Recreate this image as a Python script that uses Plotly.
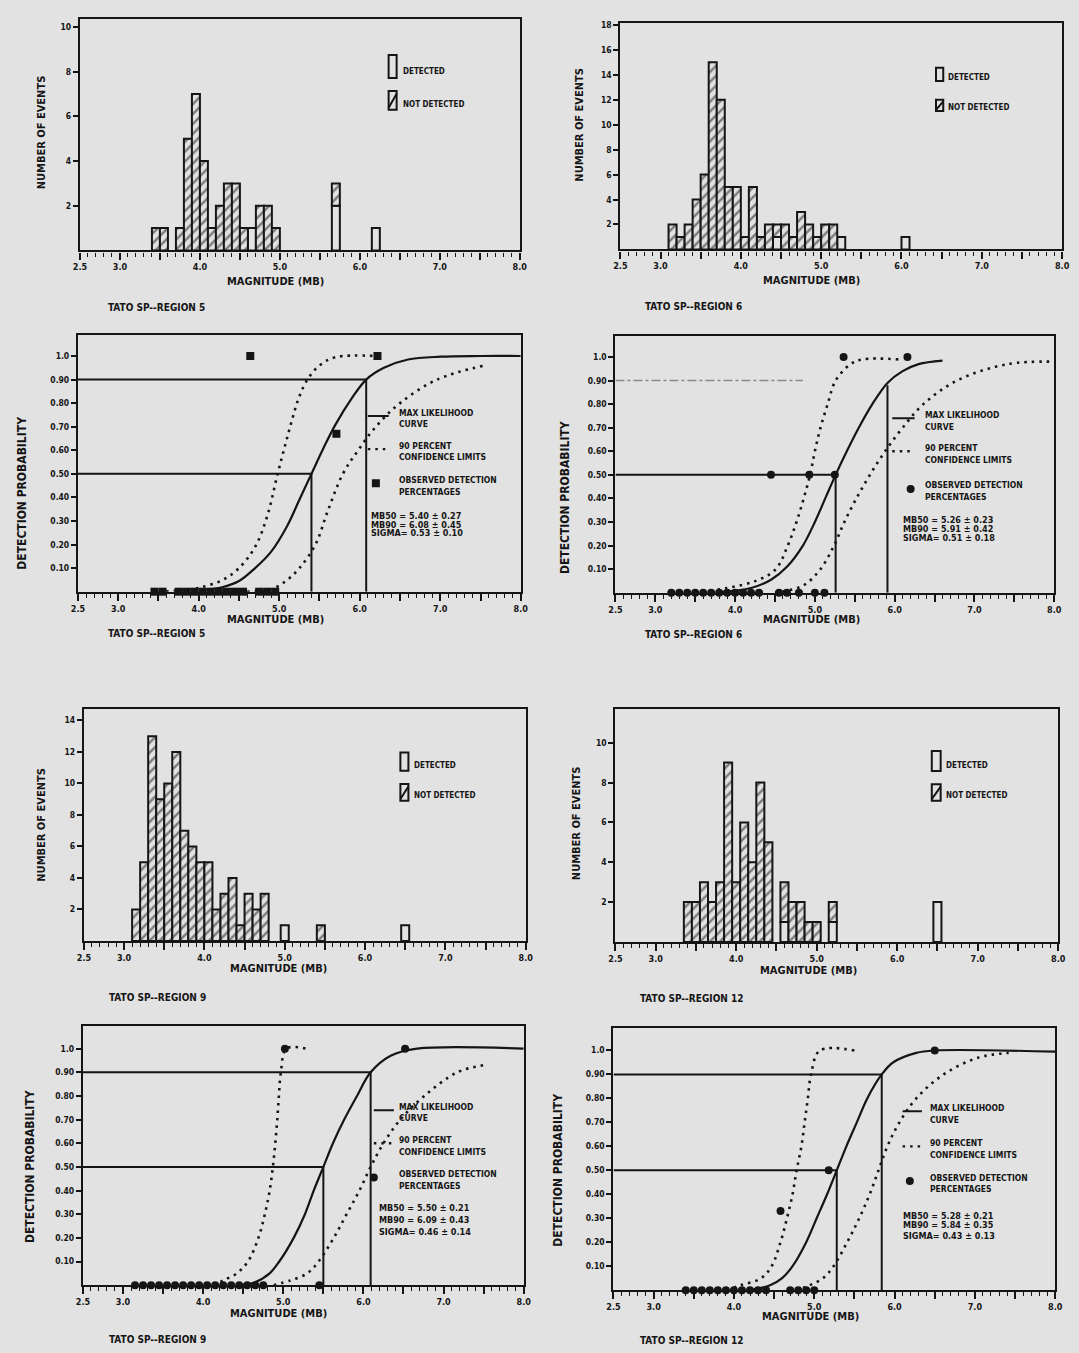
import plotly.graph_objects as go

W, H = 1079, 1353
BG = "#e2e2e2"
INK = "#151515"
FONT = "DejaVu Sans Condensed, DejaVu Sans, sans-serif"

# ---------------- histogram data (bin centre in mb, counts) ----------------
R5_BINS = [3.45, 3.55, 3.75, 3.85, 3.95, 4.05, 4.15, 4.25, 4.35, 4.45, 4.55, 4.65, 4.75, 4.85, 4.95, 5.70, 6.20]
R5_NOT_DET = [1, 1, 1, 5, 7, 4, 1, 2, 3, 3, 1, 0, 2, 2, 1, 1, 0]
R5_DET = [0, 0, 0, 0, 0, 0, 0, 0, 0, 0, 0, 1, 0, 0, 0, 2, 1]

R6_BINS = [3.15, 3.25, 3.35, 3.45, 3.55, 3.65, 3.75, 3.85, 3.95, 4.05, 4.15, 4.25, 4.35, 4.45,
           4.55, 4.65, 4.75, 4.85, 4.95, 5.05, 5.15, 5.25, 6.05]
R6_NOT_DET = [2, 1, 2, 4, 6, 15, 12, 5, 5, 1, 5, 1, 2, 1, 2, 1, 3, 2, 1, 2, 2, 0, 0]
R6_DET = [0, 0, 0, 0, 0, 0, 0, 0, 0, 0, 0, 0, 0, 1, 0, 0, 0, 0, 0, 0, 0, 1, 1]

R9_BINS = [3.15, 3.25, 3.35, 3.45, 3.55, 3.65, 3.75, 3.85, 3.95, 4.05, 4.15, 4.25, 4.35, 4.45,
           4.55, 4.65, 4.75, 5.00, 5.45, 6.50]
R9_NOT_DET = [2, 5, 13, 9, 10, 12, 7, 6, 5, 5, 2, 3, 4, 1, 3, 2, 3, 0, 1, 0]
R9_DET = [0, 0, 0, 0, 0, 0, 0, 0, 0, 0, 0, 0, 0, 0, 0, 0, 0, 1, 0, 1]

R12_BINS = [3.4, 3.5, 3.6, 3.7, 3.8, 3.9, 4.0, 4.1, 4.2, 4.3, 4.4, 4.6, 4.7, 4.8, 4.9, 5.0, 5.2, 6.5]
R12_NOT_DET = [2, 2, 3, 2, 3, 9, 3, 6, 4, 8, 5, 2, 2, 2, 1, 1, 1, 0]
R12_DET = [0, 0, 0, 0, 0, 0, 0, 0, 0, 0, 0, 1, 0, 0, 0, 0, 1, 2]

# ---------------- detection probability data ----------------
R5_ML_X = [4.0, 4.3, 4.5, 4.7, 4.9, 5.1, 5.25, 5.40, 5.55, 5.70, 5.90, 6.08, 6.30, 6.60, 7.00, 7.50, 8.00]
R5_ML_Y = [0.005, 0.02, 0.045, 0.10, 0.17, 0.28, 0.39, 0.50, 0.61, 0.71, 0.82, 0.90, 0.95, 0.985, 0.997, 1.0, 1.0]
R5_LO_X = [3.5, 3.9, 4.1, 4.3, 4.5, 4.7, 4.85, 4.98, 5.08, 5.16, 5.24, 5.35, 5.50, 5.70, 6.20]
R5_LO_Y = [0.0, 0.01, 0.025, 0.05, 0.10, 0.19, 0.32, 0.50, 0.63, 0.73, 0.82, 0.90, 0.96, 0.995, 1.0]
R5_HI_X = [4.6, 4.9, 5.1, 5.25, 5.45, 5.60, 5.79, 5.98, 6.20, 6.50, 6.96, 7.55]
R5_HI_Y = [0.0, 0.01, 0.05, 0.10, 0.20, 0.34, 0.50, 0.60, 0.70, 0.80, 0.90, 0.96]
R5_OBS_X = [3.45, 3.55, 3.75, 3.85, 3.95, 4.05, 4.15, 4.25, 4.35, 4.45, 4.55, 4.75, 4.85, 4.95, 4.64, 5.71, 6.22]
R5_OBS_Y = [0, 0, 0, 0, 0, 0, 0, 0, 0, 0, 0, 0, 0, 0, 1.0, 0.67, 1.0]
R5_MB50, R5_MB90 = 5.40, 6.08
R5_STATS = ["MB50 = 5.40 \u00b1 0.27", "MB90 = 6.08 \u00b1 0.45", "SIGMA= 0.53 \u00b1 0.10"]

R6_ML_X = [3.8, 4.2, 4.45, 4.65, 4.85, 5.0, 5.13, 5.26, 5.40, 5.55, 5.72, 5.91, 6.10, 6.30, 6.60]
R6_ML_Y = [0.002, 0.02, 0.055, 0.11, 0.20, 0.30, 0.40, 0.50, 0.60, 0.70, 0.80, 0.89, 0.94, 0.97, 0.985]
R6_LO_X = [3.5, 3.9, 4.26, 4.51, 4.66, 4.77, 4.86, 4.94, 5.00, 5.07, 5.16, 5.26, 5.45, 5.60, 6.05]
R6_LO_Y = [0.0, 0.02, 0.05, 0.10, 0.20, 0.30, 0.40, 0.50, 0.60, 0.70, 0.80, 0.90, 0.97, 0.99, 0.99]
R6_HI_X = [4.5, 4.85, 5.07, 5.24, 5.37, 5.52, 5.69, 5.88, 6.10, 6.36, 6.78, 7.42, 8.0]
R6_HI_Y = [0.0, 0.03, 0.10, 0.20, 0.30, 0.40, 0.50, 0.60, 0.70, 0.80, 0.90, 0.97, 0.98]
R6_OBS_X = [3.2, 3.3, 3.4, 3.5, 3.6, 3.7, 3.8, 3.9, 4.0, 4.1, 4.2, 4.3, 4.55, 4.65, 4.8, 5.0, 5.12,
            4.45, 4.93, 5.25, 5.36, 6.16]
R6_OBS_Y = [0, 0, 0, 0, 0, 0, 0, 0, 0, 0, 0, 0, 0, 0, 0, 0, 0, 0.5, 0.5, 0.5, 1.0, 1.0]
R6_MB50, R6_MB90 = 5.26, 5.91
R6_STATS = ["MB50 = 5.26 \u00b1 0.23", "MB90 = 5.91 \u00b1 0.42", "SIGMA= 0.51 \u00b1 0.18"]

R9_ML_X = [4.45, 4.63, 4.83, 4.95, 5.13, 5.27, 5.38, 5.50, 5.62, 5.76, 5.92, 6.09, 6.34, 6.67, 8.0]
R9_ML_Y = [0.0, 0.01, 0.05, 0.10, 0.20, 0.30, 0.40, 0.50, 0.60, 0.70, 0.80, 0.90, 0.97, 1.0, 1.0]
R9_LO_X = [4.13, 4.25, 4.42, 4.56, 4.69, 4.77, 4.83, 4.87, 4.90, 4.925, 4.945, 4.97, 5.04, 5.29]
R9_LO_Y = [0.0, 0.02, 0.05, 0.10, 0.20, 0.30, 0.40, 0.50, 0.60, 0.70, 0.80, 0.90, 1.0, 1.0]
R9_HI_X = [4.88, 5.09, 5.30, 5.44, 5.63, 5.79, 5.95, 6.09, 6.25, 6.46, 6.76, 7.17, 7.50]
R9_HI_Y = [0.0, 0.02, 0.05, 0.10, 0.20, 0.30, 0.40, 0.50, 0.60, 0.70, 0.80, 0.90, 0.93]
R9_OBS_X = [3.15, 3.25, 3.35, 3.45, 3.55, 3.65, 3.75, 3.85, 3.95, 4.05, 4.15, 4.25, 4.35, 4.45,
            4.55, 4.65, 4.75, 5.45, 5.02, 6.52]
R9_OBS_Y = [0] * 18 + [1.0, 1.0]
R9_MB50, R9_MB90 = 5.50, 6.09
R9_STATS = ["MB50 = 5.50 \u00b1 0.21", "MB90 = 6.09 \u00b1 0.43", "SIGMA= 0.46 \u00b1 0.14"]

R12_ML_X = [4.2, 4.45, 4.6, 4.73, 4.9, 5.03, 5.16, 5.28, 5.40, 5.53, 5.66, 5.84, 5.98, 6.27, 6.49, 8.0]
R12_ML_Y = [0.0, 0.02, 0.05, 0.10, 0.20, 0.30, 0.40, 0.50, 0.60, 0.70, 0.80, 0.90, 0.95, 0.99, 1.0, 0.995]
R12_LO_X = [3.91, 4.08, 4.34, 4.47, 4.58, 4.66, 4.73, 4.78, 4.84, 4.88, 4.92, 4.96, 5.07, 5.50]
R12_LO_Y = [0.0, 0.02, 0.05, 0.10, 0.20, 0.30, 0.40, 0.50, 0.60, 0.70, 0.80, 0.90, 1.0, 1.0]
R12_HI_X = [4.77, 4.94, 5.11, 5.24, 5.41, 5.56, 5.69, 5.80, 5.91, 6.06, 6.27, 6.61, 7.04, 7.42]
R12_HI_Y = [0.0, 0.02, 0.05, 0.10, 0.20, 0.30, 0.40, 0.50, 0.60, 0.70, 0.80, 0.90, 0.97, 0.99]
R12_OBS_X = [3.4, 3.5, 3.6, 3.7, 3.8, 3.9, 4.0, 4.1, 4.2, 4.3, 4.4, 4.7, 4.8, 4.9, 5.0, 4.58, 5.18, 6.5]
R12_OBS_Y = [0] * 15 + [0.33, 0.5, 1.0]
R12_MB50, R12_MB90 = 5.28, 5.84
R12_STATS = ["MB50 = 5.28 \u00b1 0.21", "MB90 = 5.84 \u00b1 0.35", "SIGMA= 0.43 \u00b1 0.13"]

X_TICKS = [2.5, 3.0, 3.5, 4.0, 4.5, 5.0, 5.5, 6.0, 6.5, 7.0, 7.5, 8.0]
X_TICK_TEXT = ["2.5", "3.0", "", "4.0", "", "5.0", "", "6.0", "", "7.0", "", "8.0"]
P_TICKS = [0.1, 0.2, 0.3, 0.4, 0.5, 0.6, 0.7, 0.8, 0.9, 1.0]
P_TICK_TEXT = ["0.10", "0.20", "0.30", "0.40", "0.50", "0.60", "0.70", "0.80", "0.90", "1.0"]

TITLE = "TATO SP--REGION "
LEG_ML = ["MAX LIKELIHOOD", "CURVE"]
LEG_CI = ["90 PERCENT", "CONFIDENCE LIMITS"]
LEG_OBS = ["OBSERVED DETECTION", "PERCENTAGES"]

# ---------------- layout of the page (pixels) ----------------
# n, left, top, right, bottom, ymax
BOXES = [
    (1, 74, 16, 520, 248, 10.36),
    (2, 622, 20, 1070, 247, 18.15),
    (3, 72, 333, 521, 590, 1.088),
    (4, 617, 334, 1062, 591, 1.088),
    (5, 78, 708, 526, 940, 14.7),
    (6, 617, 708, 1066, 941, 11.67),
    (7, 77, 1025, 524, 1285, 1.097),
    (8, 615, 1027, 1063, 1290, 1.095),
]

fig = go.Figure()
layout = dict(
    width=W, height=H, margin=dict(l=0, r=0, t=0, b=0),
    paper_bgcolor=BG, plot_bgcolor=BG, showlegend=False,
    barmode="overlay", font=dict(family=FONT, color=INK),
)
annotations = []
shapes = []


def refs(n):
    return ("x" if n == 1 else f"x{n}"), ("y" if n == 1 else f"y{n}")


for n, l, t, r, b, ymax in BOXES:
    xk = "xaxis" if n == 1 else f"xaxis{n}"
    yk = "yaxis" if n == 1 else f"yaxis{n}"
    xa, ya = refs(n)
    layout[xk] = dict(
        domain=[l / W, r / W], range=[2.5, 8.0], anchor=ya,
        showline=True, linewidth=2.2, linecolor=INK, mirror=True,
        ticks="outside", ticklen=7, tickwidth=1.6, tickcolor=INK,
        tickmode="array", tickvals=X_TICKS, ticktext=X_TICK_TEXT,
        tickfont=dict(size=9, family=FONT, weight="bold", color=INK),
        minor=dict(tickmode="linear", tick0=2.5, dtick=0.1, ticks="outside",
                   ticklen=4, tickwidth=1.3, tickcolor=INK, showgrid=False),
        showgrid=False, zeroline=False, fixedrange=True,
    )
    if ymax < 2:
        tv, tt = P_TICKS, P_TICK_TEXT
    else:
        tv = list(range(2, int(ymax) + 1, 2))
        tt = [str(v) for v in tv]
    layout[yk] = dict(
        domain=[1 - b / H, 1 - t / H], range=[0, ymax], anchor=xa,
        showline=True, linewidth=2.2, linecolor=INK, mirror=True,
        ticks="outside", ticklen=5, tickwidth=1.6, tickcolor=INK,
        tickmode="array", tickvals=tv, ticktext=tt,
        tickfont=dict(size=8.5, family=FONT, weight="bold", color=INK),
        showgrid=False, zeroline=False, fixedrange=True,
    )


def page_text(px, py, text, size=10, xanchor="left", angle=0):
    annotations.append(dict(
        x=px / W, y=1 - py / H, xref="paper", yref="paper", text=text,
        showarrow=False, xanchor=xanchor, yanchor="middle", textangle=angle,
        font=dict(size=size, family=FONT, weight="bold", color=INK)))


def data_text(n, x, y, text, size=8.5):
    xa, ya = refs(n)
    annotations.append(dict(
        x=x, y=y, xref=xa, yref=ya, text=text, showarrow=False,
        xanchor="left", yanchor="middle",
        font=dict(size=size, family=FONT, weight="bold", color=INK)))


def histogram(n, bins, not_det, det, leg):
    xa, ya = refs(n)
    fig.add_trace(go.Bar(
        x=bins, y=[v if v else None for v in det], width=0.1,
        marker=dict(color=BG, line=dict(color=INK, width=2)),
        xaxis=xa, yaxis=ya))
    fig.add_trace(go.Bar(
        x=bins, y=[v if v else None for v in not_det], base=det, width=0.1,
        marker=dict(color=BG, line=dict(color=INK, width=2),
                    pattern=dict(shape="/", fgcolor=INK, bgcolor=BG, size=7, solidity=0.35)),
        xaxis=xa, yaxis=ya))
    x0, x1, d0, d1, h0, h1, tx = leg
    shapes.append(dict(type="rect", xref=xa, yref=ya, x0=x0, x1=x1, y0=d0, y1=d1,
                       line=dict(color=INK, width=2)))
    shapes.append(dict(type="rect", xref=xa, yref=ya, x0=x0, x1=x1, y0=h0, y1=h1,
                       line=dict(color=INK, width=2)))
    hh = h1 - h0
    shapes.append(dict(type="line", xref=xa, yref=ya, x0=x0, x1=x1,
                       y0=h0 + 0.1 * hh, y1=h1 - 0.15 * hh, line=dict(color=INK, width=2)))
    data_text(n, tx, d0 + 0.3 * (d1 - d0), "DETECTED", 8)
    data_text(n, tx, h0 + 0.3 * hh, "NOT DETECTED", 8)


def detection(n, ml, lo, hi, obs, mb50, mb90, symbol, stats, leg, faint90=False):
    xa, ya = refs(n)
    line = dict(color=INK, width=2)
    fig.add_trace(go.Scatter(x=[2.5, mb50, mb50], y=[0.5, 0.5, 0], mode="lines",
                             line=line, xaxis=xa, yaxis=ya))
    if faint90:
        fig.add_trace(go.Scatter(x=[2.5, 4.85], y=[0.9, 0.9], mode="lines",
                                 line=dict(color="#8a8a8a", width=1.6, dash="dashdot"),
                                 xaxis=xa, yaxis=ya))
        fig.add_trace(go.Scatter(x=[mb90, mb90], y=[0.88, 0], mode="lines",
                                 line=line, xaxis=xa, yaxis=ya))
    else:
        fig.add_trace(go.Scatter(x=[2.5, mb90, mb90], y=[0.9, 0.9, 0], mode="lines",
                                 line=line, xaxis=xa, yaxis=ya))
    fig.add_trace(go.Scatter(x=ml[0], y=ml[1], mode="lines", line_shape="spline",
                             line=dict(color=INK, width=2.2), xaxis=xa, yaxis=ya))
    for cx, cy in (lo, hi):
        fig.add_trace(go.Scatter(x=cx, y=cy, mode="lines", line_shape="spline",
                                 line=dict(color=INK, width=2.6, dash="2.5px,5px"),
                                 xaxis=xa, yaxis=ya))
    fig.add_trace(go.Scatter(x=obs[0], y=obs[1], mode="markers", cliponaxis=False,
                             marker=dict(symbol=symbol, size=8, color=INK),
                             xaxis=xa, yaxis=ya))
    sx0, sx1, tx, y_ml, y_ci, y_obs, mkx, st_x, st_y = leg
    shapes.append(dict(type="line", xref=xa, yref=ya, x0=sx0, x1=sx1, y0=y_ml, y1=y_ml,
                       line=dict(color=INK, width=2)))
    shapes.append(dict(type="line", xref=xa, yref=ya, x0=sx0, x1=sx1, y0=y_ci, y1=y_ci,
                       line=dict(color=INK, width=2.4, dash="2.5px,5px")))
    fig.add_trace(go.Scatter(x=[mkx], y=[y_obs], mode="markers",
                             marker=dict(symbol=symbol, size=8, color=INK),
                             xaxis=xa, yaxis=ya))
    data_text(n, tx, y_ml + 0.015, LEG_ML[0])
    data_text(n, tx, y_ml - 0.035, LEG_ML[1])
    data_text(n, tx, y_ci + 0.015, LEG_CI[0])
    data_text(n, tx, y_ci - 0.035, LEG_CI[1])
    data_text(n, tx, y_obs + 0.015, LEG_OBS[0])
    data_text(n, tx, y_obs - 0.035, LEG_OBS[1])
    for s, yy in zip(stats, st_y):
        data_text(n, st_x, yy, s, 9)


histogram(1, R5_BINS, R5_NOT_DET, R5_DET, (6.36, 6.46, 7.72, 8.75, 6.30, 7.14, 6.52))
histogram(2, R6_BINS, R6_NOT_DET, R6_DET, (6.43, 6.52, 13.5, 14.56, 11.1, 12.0, 6.56))
histogram(5, R9_BINS, R9_NOT_DET, R9_DET, (6.44, 6.54, 10.8, 11.96, 8.9, 9.97, 6.58))
histogram(6, R12_BINS, R12_NOT_DET, R12_DET, (6.43, 6.54, 8.58, 9.58, 7.08, 7.92, 6.58))

detection(3, (R5_ML_X, R5_ML_Y), (R5_LO_X, R5_LO_Y), (R5_HI_X, R5_HI_Y), (R5_OBS_X, R5_OBS_Y),
          R5_MB50, R5_MB90, "square", R5_STATS,
          (6.10, 6.36, 6.46, 0.745, 0.605, 0.46, 6.20, 6.12, [0.32, 0.285, 0.25]))
detection(4, (R6_ML_X, R6_ML_Y), (R6_LO_X, R6_LO_Y), (R6_HI_X, R6_HI_Y), (R6_OBS_X, R6_OBS_Y),
          R6_MB50, R6_MB90, "circle", R6_STATS,
          (5.97, 6.25, 6.35, 0.74, 0.60, 0.44, 6.20, 6.08, [0.31, 0.27, 0.23]), faint90=True)
detection(7, (R9_ML_X, R9_ML_Y), (R9_LO_X, R9_LO_Y), (R9_HI_X, R9_HI_Y), (R9_OBS_X, R9_OBS_Y),
          R9_MB50, R9_MB90, "circle", R9_STATS,
          (6.13, 6.38, 6.42, 0.74, 0.60, 0.455, 6.13, 6.17, [0.325, 0.275, 0.225]))
detection(8, (R12_ML_X, R12_ML_Y), (R12_LO_X, R12_LO_Y), (R12_HI_X, R12_HI_Y), (R12_OBS_X, R12_OBS_Y),
          R12_MB50, R12_MB90, "circle", R12_STATS,
          (6.10, 6.34, 6.42, 0.746, 0.60, 0.455, 6.19, 6.08, [0.31, 0.27, 0.225]))

# axis titles and captions (page pixels)
for px, py in [(272, 279), (816, 278), (272, 618), (816, 618), (275, 968), (813, 970), (275, 1313), (815, 1316)]:
    page_text(px, py, "MAGNITUDE (MB)", 11, "center")
for px, py in [(35, 130), (581, 122), (35, 824), (577, 822)]:
    page_text(px, py, "NUMBER OF EVENTS", 11, "center", -90)
for px, py in [(15, 491), (566, 496), (24, 1166), (559, 1170)]:
    page_text(px, py, "DETECTION PROBABILITY", 12, "center", -90)
for px, py, reg in [(100, 305, 5), (645, 304, 6), (100, 632, 5), (645, 633, 6),
                    (101, 997, 9), (640, 998, 12), (101, 1339, 9), (640, 1340, 12)]:
    page_text(px, py, TITLE + str(reg), 10, "left")

layout["annotations"] = annotations
layout["shapes"] = shapes
fig.update_layout(**layout)
fig.write_html(
    "out.html",
    config={"displayModeBar": False},
    post_script="document.body.style.margin='0';document.body.style.padding='0';"
                "document.body.style.overflow='hidden';"
                "document.body.style.background='" + BG + "';",
)
